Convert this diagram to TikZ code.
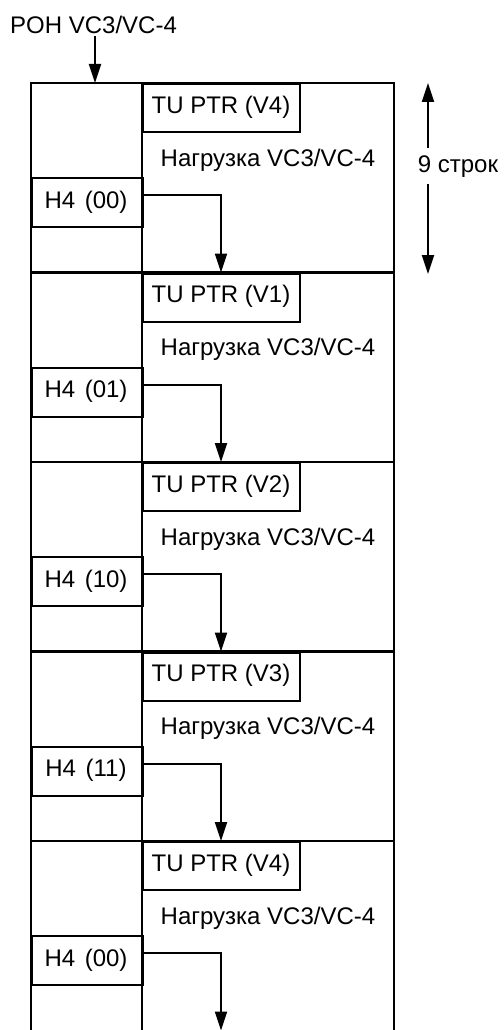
\documentclass[tikz,border=0pt]{standalone}
\usepackage{fontspec}
\setmainfont{Liberation Sans}
\usetikzlibrary{arrows.meta}
\tikzset{
  frameline/.style={line width=2.2pt},
  divline/.style={line width=2.8pt},
  cellbox/.style={draw, line width=2.2pt, inner sep=0pt, anchor=north west},
  lbl/.style={font=\fontsize{24}{28}\selectfont, inner sep=0pt},
  conn/.style={line width=2pt, -{Triangle[length=19pt,width=12pt]}},
}
\begin{document}
\begin{tikzpicture}[x=1pt,y=-1pt]
\useasboundingbox (0,0) rectangle (503,1030);
\clip (0,0) rectangle (503,1030);
% top label and arrow
\node[lbl, anchor=west] (poh) at (10,25) {POH VC3/VC-4};
\coordinate (pohend) at (95,83);
\draw[conn] (95,36) -- (pohend);
% frames
\foreach \i/\tu/\hf in {0/V4/00,1/V1/01,2/V2/10,3/V3/11,4/V4/00}{
  \pgfmathsetmacro{\yt}{83+189.5*\i}
  \pgfmathsetmacro{\yb}{\yt+189.5}
  \draw[frameline] (31,\yb) -- (31,\yt) -- (394,\yt) -- (394,\yb);
  \draw[divline] (142,\yt) -- (142,\yb);
  \node[cellbox, minimum width=157pt, minimum height=48pt] (tu\i) at (142,\yt) {};
  \node[lbl] (tut\i) at (221,\yt+24) {TU PTR (\tu)};
  \node[cellbox, minimum width=111pt, minimum height=49pt] (h4\i) at (31,\yt+94) {};
  \node[lbl] (h4t\i) at (86,\yt+119) {H4\hspace{0.4em}(\hf)};
  \node[lbl] (pl\i) at (268,\yt+77) {Нагрузка VC3/VC-4};
  \coordinate (a\i) at (142,\yt+112);
  \coordinate (b\i) at (221,\yt+112);
  \coordinate (e\i) at (221,\yb);
  \draw[conn] (a\i) -- (b\i) -- (e\i);
}
% 9 rows indicator
\node[lbl] (rows) at (458,167) {9 строк};
\coordinate (rtop) at (428,83);
\coordinate (rbot) at (428,274);
\draw[conn] (428,148) -- (rtop);
\draw[conn] (428,184) -- (rbot);
\end{tikzpicture}
\end{document}
